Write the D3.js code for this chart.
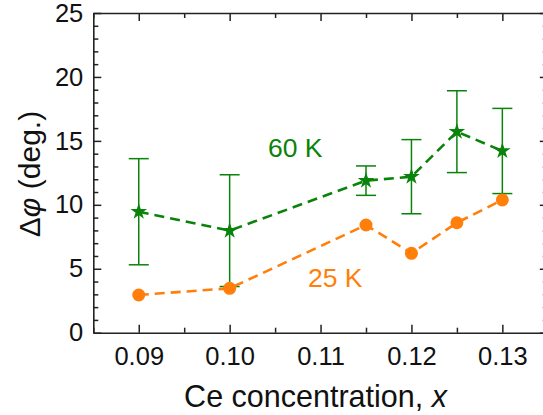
<!DOCTYPE html>
<html>
<head>
<meta charset="utf-8">
<script src="https://cdn.jsdelivr.net/npm/d3@7"></script>
<style>
  html, body { margin: 0; padding: 0; background: #fff; }
  svg { display: block; font-family: "Liberation Sans", Arial, sans-serif; }
</style>
</head>
<body>
<div id="chart"></div>
<script>
// Data
const concentration = [0.09, 0.10, 0.115, 0.12, 0.125, 0.13];
const phi60K = [9.46, 7.98, 11.89, 12.2, 15.72, 14.21];
const err60K = [4.15, 4.37, 1.15, 2.9, 3.2, 3.33];
const phi25K = [2.95, 3.47, 8.42, 6.21, 8.6, 10.38];
const xTicks = [0.09, 0.10, 0.11, 0.12, 0.13];
const yTicks = [0, 5, 10, 15, 20, 25];
const seriesLabels = ["60 K", "25 K"];

const W = 543, H = 415;
const margin = { left: 93.3, top: 13, right: 547.8, bottom: 332.7 };
const green = "#0a830a", orange = "#ff7f0a";

const svg = d3.select("#chart").append("svg").attr("width", W).attr("height", H);

const x = d3.scaleLinear().domain([0.085, 0.135]).range([margin.left, margin.right]);
const y = d3.scaleLinear().domain([0, 25]).range([margin.bottom, margin.top]);

const axisColor = "#222";
const xMinor = d3.range(0.085, 0.1351, 0.005).map(v => +v.toFixed(3)).filter(v => !xTicks.some(t => Math.abs(t - v) < 1e-9));
const yMinor = d3.range(0, 26, 1).filter(v => v % 5 !== 0);

function styleAxis(g) {
  g.selectAll("path, line").attr("stroke", axisColor).attr("stroke-width", 1.5);
  g.select(".domain").attr("stroke-width", 1.6);
}

// minor ticks
function minor(axisFn, scale, vals, transform) {
  svg.append("g").attr("transform", transform)
    .call(axisFn(scale).tickValues(vals).tickSizeInner(-5).tickSizeOuter(0).tickFormat(""))
    .call(g => g.select(".domain").remove())
    .call(g => g.selectAll("line").attr("stroke", axisColor).attr("stroke-width", 1.5));
}
minor(d3.axisBottom, x, xMinor, `translate(0,${margin.bottom})`);
minor(d3.axisTop, x, xMinor, `translate(0,${margin.top})`);
minor(d3.axisLeft, y, yMinor, `translate(${margin.left},0)`);
minor(d3.axisRight, y, yMinor, `translate(${margin.right},0)`);

// major axes
svg.append("g").attr("transform", `translate(0,${margin.bottom})`)
  .call(d3.axisBottom(x).tickValues(xTicks).tickSizeInner(-8).tickSizeOuter(0).tickPadding(14.6).tickFormat(d3.format(".2f")))
  .call(styleAxis)
  .call(g => g.selectAll("text").attr("font-size", 25.5).attr("fill", "#111").attr("font-family", "Liberation Sans, Arial, sans-serif"));
svg.append("g").attr("transform", `translate(0,${margin.top})`)
  .call(d3.axisTop(x).tickValues(xTicks).tickSizeInner(-8).tickSizeOuter(0).tickFormat(""))
  .call(styleAxis);
svg.append("g").attr("transform", `translate(${margin.left},0)`)
  .call(d3.axisLeft(y).tickValues(yTicks).tickSizeInner(-8).tickSizeOuter(0).tickPadding(10).tickFormat(d3.format("d")))
  .call(styleAxis)
  .call(g => g.selectAll("text").attr("font-size", 25.5).attr("fill", "#111").attr("font-family", "Liberation Sans, Arial, sans-serif"));
svg.append("g").attr("transform", `translate(${margin.right},0)`)
  .call(d3.axisRight(y).tickValues(yTicks).tickSizeInner(-8).tickSizeOuter(0).tickFormat(""))
  .call(styleAxis);

// axis titles
const xt = svg.append("text").attr("x", 315.5).attr("y", 407)
  .attr("text-anchor", "middle").attr("font-size", 30.5).attr("fill", "#111");
xt.append("tspan").text("Ce concentration, ");
xt.append("tspan").attr("font-style", "italic").text("x");

const yt = svg.append("text").attr("transform", `translate(40,174) rotate(-90)`)
  .attr("text-anchor", "middle").attr("font-size", 30).attr("fill", "#111");
yt.append("tspan").text("Δ");
yt.append("tspan").attr("font-style", "italic").text("φ");
yt.append("tspan").text(" (deg.)");

// 60 K series
const d60 = concentration.map((c, i) => ({ c, v: phi60K[i], e: err60K[i] }));
const d25 = concentration.map((c, i) => ({ c, v: phi25K[i] }));
const line = d3.line().x(d => x(d.c)).y(d => y(d.v));

const eb = svg.append("g").attr("stroke", green).attr("stroke-width", 1.5).attr("fill", "none");
d60.forEach(d => {
  eb.append("line").attr("x1", x(d.c)).attr("x2", x(d.c)).attr("y1", y(d.v - d.e)).attr("y2", y(d.v + d.e));
  eb.append("line").attr("x1", x(d.c) - 10).attr("x2", x(d.c) + 10).attr("y1", y(d.v + d.e)).attr("y2", y(d.v + d.e));
  eb.append("line").attr("x1", x(d.c) - 10).attr("x2", x(d.c) + 10).attr("y1", y(d.v - d.e)).attr("y2", y(d.v - d.e));
});
svg.append("path").datum(d60).attr("d", line).attr("fill", "none")
  .attr("stroke", green).attr("stroke-width", 2.6).attr("stroke-dasharray", "10,6");
svg.append("g").selectAll("path").data(d60).join("path")
  .attr("d", d3.symbol(d3.symbolStar, 85))
  .attr("transform", d => `translate(${x(d.c)},${y(d.v)})`)
  .attr("fill", green);

// 25 K series
svg.append("path").datum(d25).attr("d", line).attr("fill", "none")
  .attr("stroke", orange).attr("stroke-width", 2.6).attr("stroke-dasharray", "10,6");
svg.append("g").selectAll("circle").data(d25).join("circle")
  .attr("cx", d => x(d.c)).attr("cy", d => y(d.v)).attr("r", 6.5).attr("fill", orange);

// series labels
svg.append("text").attr("x", 268).attr("y", 157).attr("font-size", 26.5).attr("fill", green).text(seriesLabels[0]);
svg.append("text").attr("x", 308).attr("y", 287).attr("font-size", 26.5).attr("fill", orange).text(seriesLabels[1]);
</script>
</body>
</html>
